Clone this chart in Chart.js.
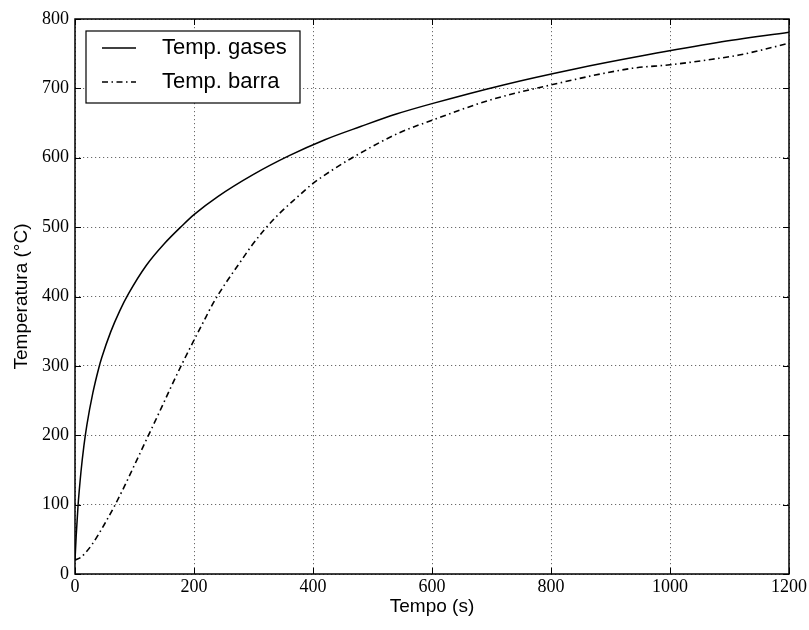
<!DOCTYPE html>
<html>
<head>
<meta charset="utf-8">
<script src="https://cdn.jsdelivr.net/npm/chart.js@4.4.1/dist/chart.umd.min.js"></script>
<style>
  html, body { margin: 0; padding: 0; background: #fff; }
  #wrap { width: 809px; height: 630px; }
</style>
</head>
<body>
<div id="wrap"><canvas id="chart" width="809" height="630"></canvas></div>
<script>
// gas temperature (solid line)
const timeGas = [0, 2, 5, 10, 15, 20, 30, 40, 45, 60, 75, 90, 120, 150, 180, 200, 240, 300, 360, 420, 480, 540, 600, 720, 840, 960, 1080, 1200];
const tempGas = [20, 55, 97, 147, 185, 215, 261, 297, 312, 349, 379, 404, 445, 476, 502, 518, 544, 576, 603, 626, 645, 663, 678, 705, 728, 748, 766, 781];

// bar temperature (dash-dot line)
const timeBar = [0, 10, 18, 29, 49, 67, 84, 101, 123, 140, 160, 180, 200, 215, 232, 253, 274, 295, 319, 344, 372, 400, 432, 464, 545, 600, 697, 800, 937, 1000, 1071, 1116, 1200];
const tempBar = [20, 24, 31, 43, 71, 99, 128, 159, 199, 230, 267, 303, 337, 362, 390, 419, 445, 471, 497, 520, 542, 563, 582, 599, 636, 654, 683, 705, 729, 734, 742, 748, 765];

const xTicks = [0, 200, 400, 600, 800, 1000, 1200];
const yTicks = [0, 100, 200, 300, 400, 500, 600, 700, 800];

const seriesNames = ["Temp. gases", "Temp. barra"];

function toPoints(xs, ys) {
  return xs.map((x, i) => ({ x: x, y: ys[i] }));
}

const dashDot = [6, 3.5, 1.5, 3.5];

// frame, inward ticks and legend box like the old matplotlib style
const framePlugin = {
  id: "frame",
  afterDraw(chart) {
    const ctx = chart.ctx;
    const a = chart.chartArea;
    const xs = chart.scales.x;
    const ys = chart.scales.y;
    ctx.save();
    ctx.strokeStyle = "#000";
    ctx.lineWidth = 1;
    ctx.setLineDash([]);
    ctx.beginPath();
    xTicks.forEach(v => {
      const px = Math.round(xs.getPixelForValue(v)) + 0.5;
      ctx.moveTo(px, a.bottom); ctx.lineTo(px, a.bottom - 6);
      ctx.moveTo(px, a.top); ctx.lineTo(px, a.top + 6);
    });
    yTicks.forEach(v => {
      const py = Math.round(ys.getPixelForValue(v)) + 0.5;
      ctx.moveTo(a.left, py); ctx.lineTo(a.left + 6, py);
      ctx.moveTo(a.right, py); ctx.lineTo(a.right - 6, py);
    });
    ctx.stroke();
    ctx.lineWidth = 1.5;
    ctx.strokeRect(a.left, a.top, a.right - a.left, a.bottom - a.top);

    // legend
    const bx = a.left + 11, by = a.top + 12, bw = 214, bh = 72;
    ctx.fillStyle = "#fff";
    ctx.fillRect(bx, by, bw, bh);
    ctx.lineWidth = 1.2;
    ctx.strokeRect(bx, by, bw, bh);
    ctx.font = "22px 'Liberation Sans', Arial, sans-serif";
    ctx.textBaseline = "middle";
    ctx.fillStyle = "#000";
    const rows = [by + 17, by + 51];
    chart.data.datasets.forEach((ds, i) => {
      ctx.beginPath();
      ctx.lineWidth = 1.5;
      ctx.setLineDash(ds.borderDash || []);
      ctx.moveTo(bx + 16, rows[i]);
      ctx.lineTo(bx + 50, rows[i]);
      ctx.stroke();
      ctx.setLineDash([]);
      ctx.fillText(ds.label, bx + 76, rows[i]);
    });
    ctx.restore();
  }
};

const tickFont = { family: "'Liberation Serif', 'DejaVu Serif', serif", size: 18 };
const titleFont = { family: "'Liberation Sans', Arial, sans-serif", size: 19 };

new Chart(document.getElementById("chart"), {
  type: "line",
  data: {
    datasets: [
      {
        label: seriesNames[0],
        data: toPoints(timeGas, tempGas),
        borderColor: "#000",
        borderWidth: 1.5,
        pointRadius: 0,
        cubicInterpolationMode: "monotone",
        fill: false
      },
      {
        label: seriesNames[1],
        data: toPoints(timeBar, tempBar),
        borderColor: "#000",
        borderWidth: 1.6,
        borderDash: dashDot,
        pointRadius: 0,
        cubicInterpolationMode: "monotone",
        fill: false
      }
    ]
  },
  options: {
    responsive: false,
    animation: false,
    layout: { padding: { top: 19, right: 19, left: 0, bottom: 0 } },
    plugins: {
      legend: { display: false },
      tooltip: { enabled: false }
    },
    scales: {
      x: {
        type: "linear",
        min: 0,
        max: 1200,
        afterBuildTicks: s => { s.ticks = xTicks.map(v => ({ value: v })); },
        afterFit: s => { s.height = 56; },
        ticks: {
          color: "#000",
          padding: 2,
          maxRotation: 0,
          font: tickFont,
          callback: v => String(v)
        },
        grid: { color: "#444", lineWidth: 0.8, drawTicks: false },
        border: { display: false, dash: [1.2, 2.8] },
        title: {
          display: true,
          text: "Tempo (s)",
          color: "#000",
          padding: { top: 0, bottom: 12 },
          font: titleFont
        }
      },
      y: {
        type: "linear",
        min: 0,
        max: 800,
        afterBuildTicks: s => { s.ticks = yTicks.map(v => ({ value: v })); },
        afterFit: s => { s.width = 75; },
        ticks: {
          color: "#000",
          padding: 6,
          font: tickFont,
          callback: v => String(v)
        },
        grid: { color: "#444", lineWidth: 0.8, drawTicks: false },
        border: { display: false, dash: [1.2, 2.8] },
        title: {
          display: true,
          text: "Temperatura (°C)",
          color: "#000",
          padding: { top: 10, bottom: 0 },
          font: titleFont
        }
      }
    }
  },
  plugins: [framePlugin]
});
</script>
</body>
</html>
